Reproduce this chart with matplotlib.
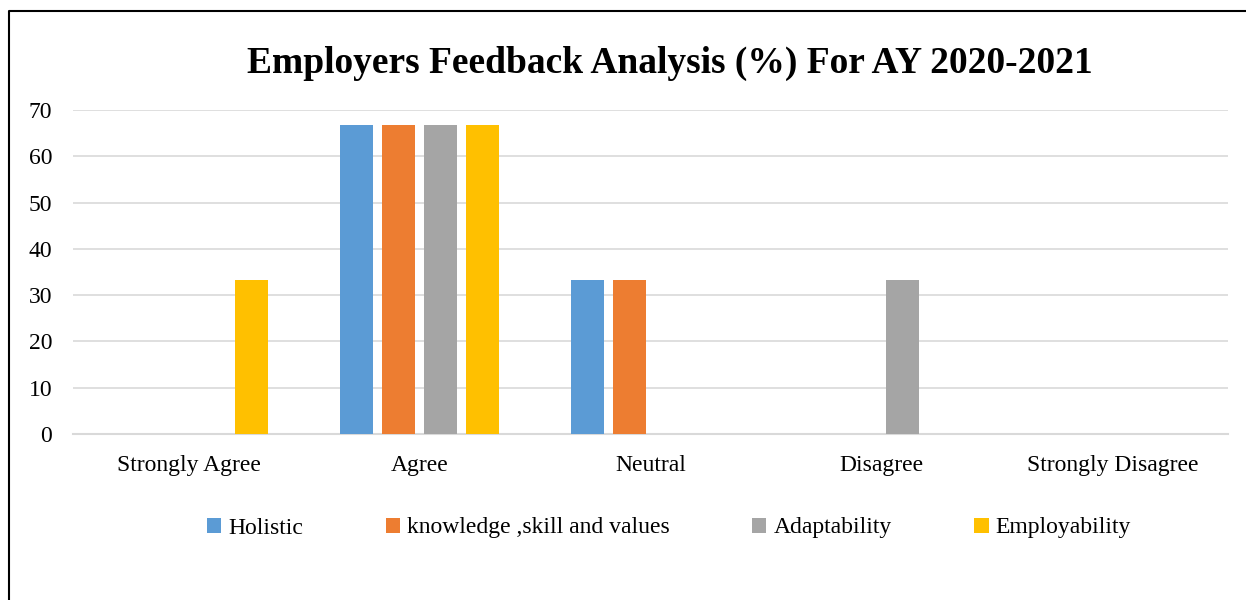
import numpy as np
import matplotlib.pyplot as plt
from matplotlib.lines import Line2D

plt.rcParams['font.family'] = ['Liberation Serif', 'DejaVu Serif']

categories = ['Strongly Agree', 'Agree', 'Neutral', 'Disagree', 'Strongly Disagree']
series_names = ['Holistic', 'knowledge ,skill and values', 'Adaptability', 'Employability']
holistic = [0, 66.67, 33.33, 0, 0]
knowledge = [0, 66.67, 33.33, 0, 0]
adaptability = [0, 66.67, 0, 33.33, 0]
employability = [33.33, 66.67, 0, 0, 0]
colors = ['#5B9BD5', '#ED7D31', '#A5A5A5', '#FFC000']

fig = plt.figure(figsize=(12.46, 6), dpi=100)
ax = fig.add_axes([73/1246, 1-434/600, (1228-73)/1246, (434-110)/600])

x = np.arange(len(categories))
slot = 42/231
bw = 33/231
for i, (vals, name) in enumerate(zip([holistic, knowledge, adaptability, employability], series_names)):
    ax.bar(x + (i-1.5)*slot, vals, width=bw, color=colors[i], label=name, zorder=3)

ax.set_xlim(-0.5, 4.5)
ax.set_ylim(0, 70)
ax.set_yticks(range(0, 71, 10))
ax.set_xticks(x)
ax.set_xticklabels(categories)
ax.tick_params(axis='both', length=0, labelsize=17)
ax.tick_params(axis='y', pad=15)
ax.tick_params(axis='x', pad=15)
ax.yaxis.grid(True, color='#d9d9d9', linewidth=1.2, zorder=0)
for s in ['left', 'right', 'top']:
    ax.spines[s].set_visible(False)
ax.spines['bottom'].set_color('#d9d9d9')
ax.spines['bottom'].set_linewidth(1.5)

fig.text(670/1246, 1-63/600, 'Employers Feedback Analysis (%) For AY 2020-2021',
         ha='center', va='center', fontsize=27, fontweight='bold')

fig.legend(loc='center', bbox_to_anchor=(669/1246, 1-528/600), ncol=4, frameon=False,
           fontsize=17, handlelength=0.6, handleheight=0.6, handletextpad=0.3,
           columnspacing=3.5)

# outer border (left and top)
fig.add_artist(Line2D([8.5/1246, 8.5/1246, 1], [0, 1-11/600, 1-11/600],
                      transform=fig.transFigure, color='black', linewidth=1.5))

fig.savefig('out.png', dpi=100)
